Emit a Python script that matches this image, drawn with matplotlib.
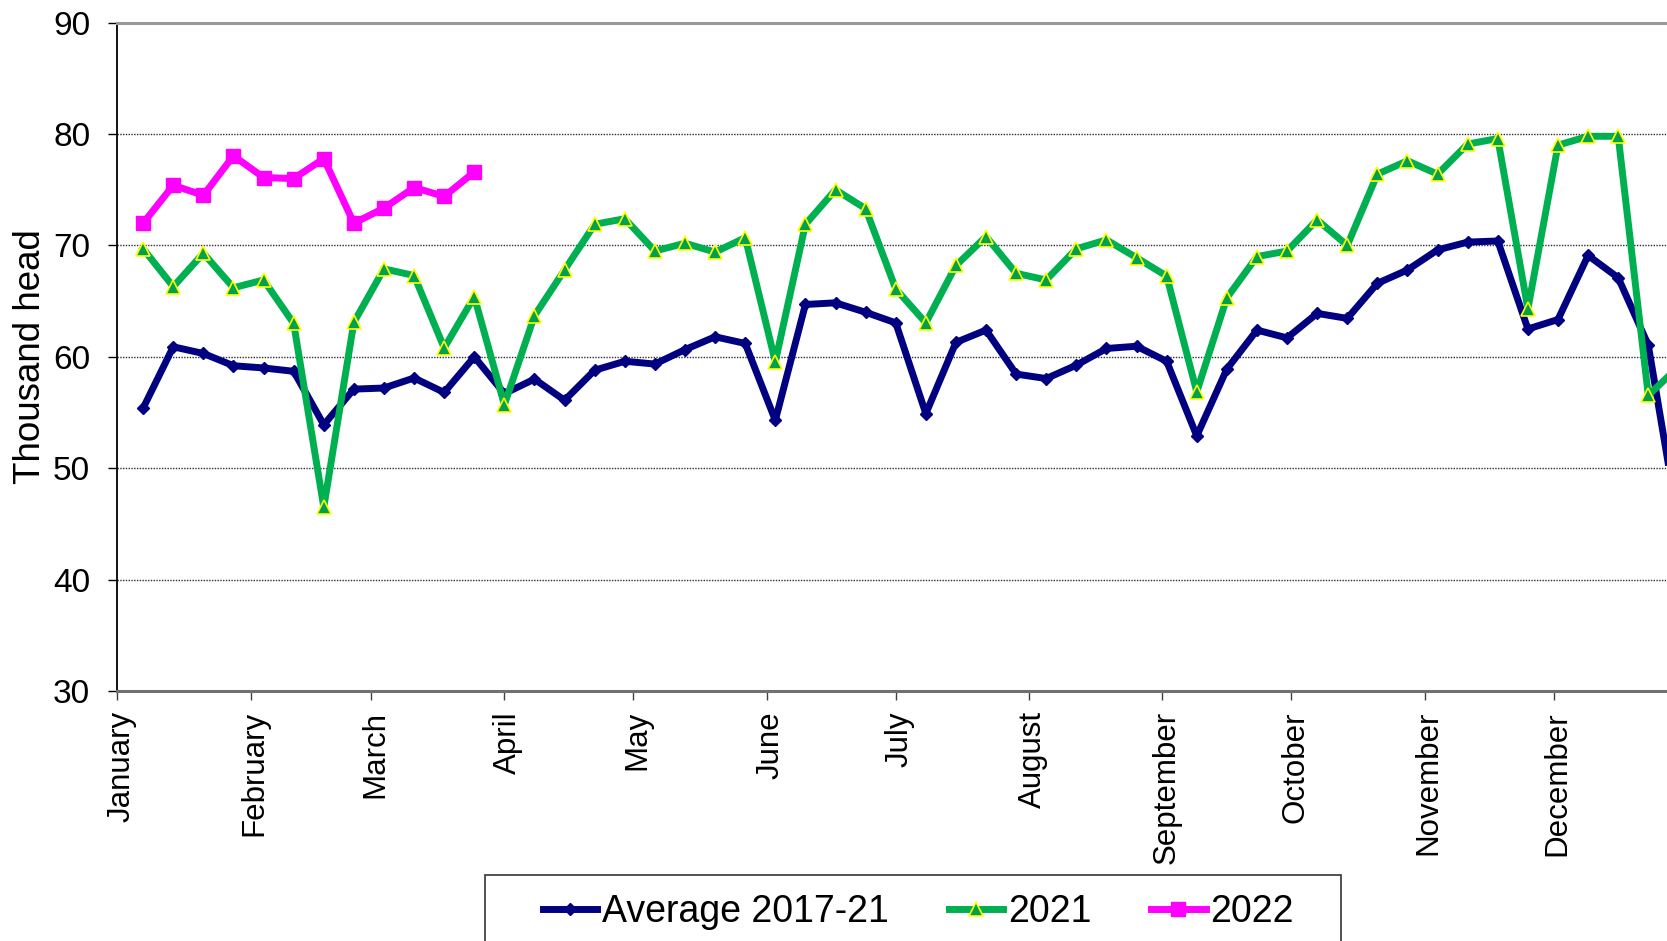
import numpy as np
from matplotlib import pyplot as plt
from matplotlib.patches import Rectangle
from matplotlib.transforms import ScaledTranslation

plt.rcParams['font.family'] = ['Liberation Sans', 'DejaVu Sans']

# weekly data, week 1..52, plotted on a day-of-year axis
weeks = np.arange(1, 53)
avg_2017_21 = [55.4, 60.9, 60.3, 59.2, 59.0, 58.7, 53.9, 57.1, 57.2, 58.1, 56.8, 60.0, 56.7,
               58.0, 56.1, 58.8, 59.6, 59.35, 60.65, 61.8, 61.2, 54.3, 64.7, 64.85, 64.0, 63.05,
               54.9, 61.3, 62.4, 58.45, 58.05, 59.25, 60.75, 60.95, 59.6, 52.9, 58.9, 62.4, 61.7,
               63.9, 63.45, 66.6, 67.8, 69.6, 70.3, 70.4, 62.5, 63.35, 69.1, 67.1, 61.05, 45.0]
y2021 = [69.7, 66.3, 69.3, 66.2, 66.9, 63.0, 46.5, 63.1, 67.9, 67.3, 60.8, 65.4, 55.7,
         63.7, 67.8, 71.9, 72.4, 69.5, 70.2, 69.4, 70.7, 59.55, 71.9, 75.0, 73.3, 66.1,
         63.05, 68.2, 70.8, 67.5, 66.9, 69.7, 70.5, 68.9, 67.25, 56.85, 65.3, 69.0, 69.5,
         72.3, 70.0, 76.4, 77.6, 76.4, 79.1, 79.6, 64.3, 79.0, 79.8, 79.8, 56.55, 59.1]
y2022 = [72.0, 75.4, 74.5, 78.05, 76.1, 76.0, 77.8, 72.0, 73.35, 75.2, 74.4, 76.6]

months = ['January', 'February', 'March', 'April', 'May', 'June', 'July', 'August',
          'September', 'October', 'November', 'December']
month_days = [31, 28, 31, 30, 31, 30, 31, 31, 30, 31, 30, 31]
month_starts = np.concatenate([[0], np.cumsum(month_days)[:-1]])

day = weeks * 7 - 1

fig = plt.figure(figsize=(16.67, 9.41), dpi=100)
# axes runs past the right edge of the figure, like the cropped original
ax = fig.add_axes([0.0704, 0.2657, 0.9416, 0.7102])

ax.plot(day, avg_2017_21, color='#000080', lw=5, marker='D', ms=6.5,
        markeredgecolor='#000080', label='Average 2017-21', zorder=3)
ax.plot(day, y2021, color='#00B050', lw=5, marker='^', ms=10,
        markerfacecolor='#00A050', markeredgecolor='#FFFF00', markeredgewidth=1.2,
        label='2021', zorder=4)
ax.plot(day[:len(y2022)], y2022, color='#FF00FF', lw=5, marker='s', ms=10,
        markeredgecolor='#FF00FF', label='2022', zorder=5)

ax.set_xlim(0, 365)
ax.set_ylim(30, 90)
ax.set_yticks(range(30, 91, 10))
ax.set_xticks(month_starts)
ax.set_xticklabels(months, rotation=90, ha='center', va='top')

ax.tick_params(axis='y', direction='out', length=6.5, width=1, colors='black',
               labelsize=24, pad=13)
ax.tick_params(axis='x', direction='out', length=6.5, width=1, color='#404040',
               labelcolor='black', labelsize=22.5, pad=8)

# month labels sit a little right of their ticks
shift = ScaledTranslation(4 / 100, 0, fig.dpi_scale_trans)
for lbl in ax.get_xticklabels():
    lbl.set_transform(lbl.get_transform() + shift)

# dotted gridlines
ax.yaxis.grid(True, linestyle=(0, (1, 1)), color='#303030', lw=1)
ax.set_axisbelow(True)

ax.spines['left'].set_color('black')
ax.spines['left'].set_linewidth(1.3)
ax.spines['bottom'].set_color('#707070')
ax.spines['bottom'].set_linewidth(2.2)
ax.spines['top'].set_color('#999999')
ax.spines['top'].set_linewidth(2.2)
ax.spines['right'].set_visible(False)

ax.set_ylabel('Thousand head', fontsize=26.5)
ax.yaxis.set_label_coords(-0.044, 0.5)

leg = fig.legend(loc='upper left', bbox_to_anchor=(543 / 1667, 1 - 894 / 941),
                 bbox_transform=fig.transFigure, ncol=3, frameon=False,
                 fontsize=27, handlelength=1.45, handletextpad=0.12,
                 columnspacing=1.6, borderpad=0, borderaxespad=0)

# legend box drawn by hand so it can run off the bottom like the original
fig.patches.append(Rectangle((484.7 / 1667, -0.01), (1340.7 - 484.7) / 1667,
                             1 - 875 / 941 + 0.01, transform=fig.transFigure,
                             fill=False, edgecolor='#333333', lw=1.2))

fig.savefig('out.png', dpi=100)
